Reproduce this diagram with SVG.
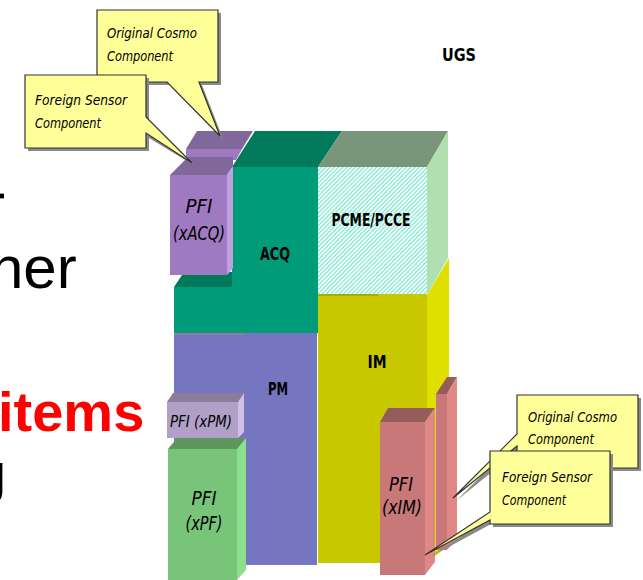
<svg xmlns="http://www.w3.org/2000/svg" width="643" height="580" viewBox="0 0 643 580">
<defs>
<pattern id="hatch" width="3" height="3" patternUnits="userSpaceOnUse" patternTransform="rotate(45)">
<rect width="3" height="3" fill="#ffffff"/>
<rect width="1.3" height="3" fill="#7fe6cf"/>
</pattern>
</defs>
<style>
.slide{font-family:"Liberation Sans",Arial,sans-serif}
.lbl{font-family:"DejaVu Sans Condensed","DejaVu Sans",sans-serif;font-weight:bold;fill:#000;text-anchor:middle}
.it{font-family:"DejaVu Sans Condensed","DejaVu Sans",sans-serif;font-style:italic;fill:#000;text-anchor:middle}
.co{fill:#ffff99;stroke:#333;stroke-width:1.2}
.sh{fill:#8a8a8a}
.ct{font-family:"DejaVu Sans Condensed","DejaVu Sans",sans-serif;font-style:italic;font-size:14px;fill:#000}
</style>
<rect width="643" height="580" fill="#ffffff"/>
<g id="slide-text">
<text class="slide" x="-15" y="225" font-size="60" fill="#000">r</text>
<text class="slide" x="-10" y="288" font-size="60" fill="#000">ner</text>
<text class="slide" x="-2" y="431" font-size="56" font-weight="bold" fill="#ff0000">items</text>
<text class="slide" x="-25" y="492" font-size="56" fill="#000">g</text>
</g>
<g id="ugs">
<text class="lbl" x="459" y="61" font-size="18" textLength="34" lengthAdjust="spacingAndGlyphs">UGS</text>
</g>
<g id="acq">
<polygon points="232,167 255,131 342,131 318,167" fill="#007a5a"/>
<polygon points="174,287 184,272 232,272 232,287" fill="#007a5a"/>
<rect x="232" y="167" width="86" height="166" fill="#009b78"/>
<rect x="174" y="287" width="58" height="46" fill="#009b78"/>
<text class="lbl" x="275" y="260" font-size="18" textLength="30" lengthAdjust="spacingAndGlyphs">ACQ</text>
</g>
<g id="pcme">
<polygon points="318,167 342,131 448,131 427,167" fill="#7a967a"/>
<polygon points="427,167 448,131 448,258 427,295" fill="#b0e0b0"/>
<rect x="318" y="167" width="109" height="127" fill="url(#hatch)"/>
<text class="lbl" x="371" y="226" font-size="18" textLength="79" lengthAdjust="spacingAndGlyphs">PCME/PCCE</text>
</g>
<g id="im">
<polygon points="427,295 449,258 449,545 427,563" fill="#e0e000"/>
<rect x="318" y="294" width="109" height="269" fill="#c8c800"/>
<line x1="318" y1="295" x2="378" y2="295" stroke="#a0a000" stroke-width="1.5"/>
<text class="lbl" x="377" y="368" font-size="18" textLength="19" lengthAdjust="spacingAndGlyphs">IM</text>
</g>
<g id="pm">
<rect x="174" y="333" width="143" height="232" fill="#7676c0"/>
<line x1="174" y1="334" x2="245" y2="334" stroke="#a07898" stroke-width="1.5"/>
<text class="lbl" x="278" y="395" font-size="18" textLength="20" lengthAdjust="spacingAndGlyphs">PM</text>
</g>
<g id="cosmo-acq">
<polygon points="186,149 197,131 253,131 242,149" fill="#80689a"/>
<polygon points="186,149 242,149 236,160 186,160" fill="#a07ac0"/>
</g>
<g id="pfi-xacq">
<polygon points="170,175 188,157 233,157 233,166 227,175" fill="#80689a"/>
<polygon points="227,175 233,166 233,268 227,275" fill="#c0a0e0"/>
<rect x="170" y="175" width="57" height="100" fill="#a07ac0"/>
<text class="it" x="199" y="213" font-size="19" textLength="27" lengthAdjust="spacingAndGlyphs">PFI</text>
<text class="it" x="199" y="240" font-size="19" textLength="52" lengthAdjust="spacingAndGlyphs">(xACQ)</text>
</g>
<g id="pfi-xpm">
<polygon points="167,402 173,393 244,393 238,402" fill="#8c7c9c"/>
<polygon points="238,402 244,393 244,432 238,438" fill="#d0c0e8"/>
<rect x="167" y="402" width="71" height="36" fill="#b0a0c8"/>
<text class="it" x="201" y="427" font-size="15" textLength="62" lengthAdjust="spacingAndGlyphs">PFI (xPM)</text>
</g>
<g id="pfi-xpf">
<polygon points="168,449 177,438 246,438 237,449" fill="#5e965e"/>
<polygon points="237,449 246,438 246,570 237,580" fill="#8ce08c"/>
<rect x="168" y="449" width="69" height="131" fill="#78c478"/>
<text class="it" x="204" y="505" font-size="19" textLength="25" lengthAdjust="spacingAndGlyphs">PFI</text>
<text class="it" x="204" y="530" font-size="19" textLength="37" lengthAdjust="spacingAndGlyphs">(xPF)</text>
</g>
<g id="cosmo-im">
<polygon points="436,394 447,377 457,377 447,394" fill="#965c5c"/>
<polygon points="447,394 457,377 457,540 447,550" fill="#e08888"/>
<rect x="436" y="394" width="11" height="156" fill="#c87878"/>
</g>
<g id="pfi-xim">
<polygon points="380,422 388,408 435,408 425,422" fill="#965c5c"/>
<polygon points="425,422 435,408 435,562 425,575" fill="#e08888"/>
<rect x="380" y="422" width="45" height="153" fill="#c87878"/>
<text class="it" x="401" y="491" font-size="19" textLength="24" lengthAdjust="spacingAndGlyphs">PFI</text>
<text class="it" x="402" y="514" font-size="19" textLength="40" lengthAdjust="spacingAndGlyphs">(xIM)</text>
</g>
<g id="callout-cosmo-top">
<path class="sh" d="M100,13 H221 V85 H202 L223,139 L170,85 H100 Z"/>
<path class="co" d="M97,10 H218 V82 H199 L220,136 L167,82 H97 Z"/>
<text class="ct" x="107" y="38" textLength="90" lengthAdjust="spacingAndGlyphs">Original Cosmo</text>
<text class="ct" x="107" y="61" textLength="66" lengthAdjust="spacingAndGlyphs">Component</text>
</g>
<g id="callout-foreign-top">
<path class="sh" d="M28,78 H149 V120 L195,166 L149,138 V151 H28 Z"/>
<path class="co" d="M25,75 H146 V117 L192,163 L146,133 V148 H25 Z"/>
<text class="ct" x="35" y="105" textLength="92" lengthAdjust="spacingAndGlyphs">Foreign Sensor</text>
<text class="ct" x="35" y="128" textLength="66" lengthAdjust="spacingAndGlyphs">Component</text>
</g>
<g id="callout-cosmo-bottom">
<path class="sh" d="M520,398 H641 V471 H520 V449 L456,501 L520,437 Z"/>
<path class="co" d="M517,395 H638 V468 H517 V446 L453,498 L517,434 Z"/>
<text class="ct" x="528" y="422" textLength="89" lengthAdjust="spacingAndGlyphs">Original Cosmo</text>
<text class="ct" x="528" y="444" textLength="66" lengthAdjust="spacingAndGlyphs">Component</text>
</g>
<g id="callout-foreign-bottom">
<path class="sh" d="M493,454 H613 V527 H493 V523 L428,558 L493,515 Z"/>
<path class="co" d="M490,451 H610 V524 H490 V520 L425,555 L490,512 Z"/>
<text class="ct" x="502" y="482" textLength="90" lengthAdjust="spacingAndGlyphs">Foreign Sensor</text>
<text class="ct" x="502" y="505" textLength="64" lengthAdjust="spacingAndGlyphs">Component</text>
</g>
<g id="connectors"/>
</svg>
